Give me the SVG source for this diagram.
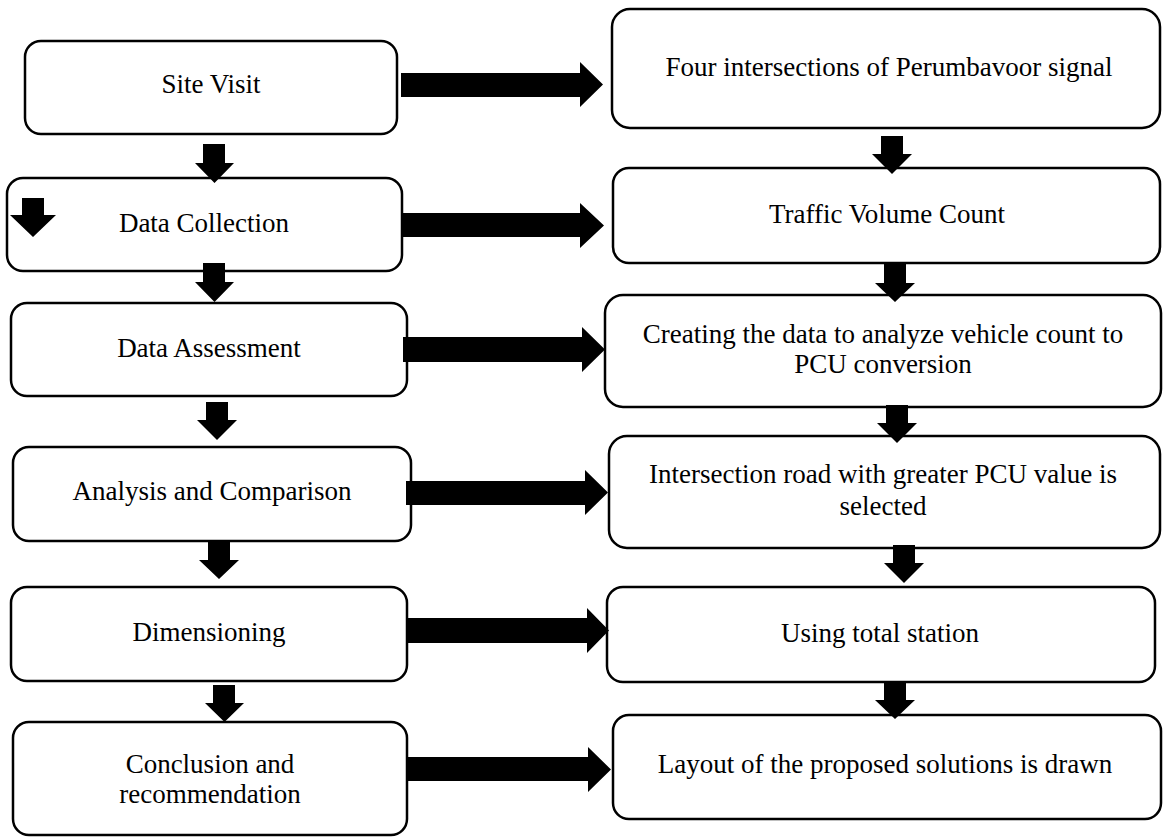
<svg xmlns="http://www.w3.org/2000/svg" width="1163" height="838" viewBox="0 0 1163 838">
<style>
.box{fill:#fff;stroke:#000;stroke-width:2.5}
.t{font-family:"Liberation Serif","Times New Roman",serif;font-size:27px;fill:#000;text-anchor:middle}
.arr{fill:#000;stroke:none}
</style>
<rect width="1163" height="838" fill="#fff"/>
<g id="site-visit"><rect class="box" x="25" y="41" width="372" height="93" rx="16"/><text class="t" x="211" y="93">Site Visit</text></g>
<g id="data-collection"><rect class="box" x="7" y="178" width="395" height="93" rx="16"/><text class="t" x="204" y="232">Data Collection</text></g>
<g id="data-assessment"><rect class="box" x="11" y="303" width="396" height="93" rx="16"/><text class="t" x="209" y="357">Data Assessment</text></g>
<g id="analysis"><rect class="box" x="13" y="447" width="398" height="94" rx="16"/><text class="t" x="212" y="500">Analysis and Comparison</text></g>
<g id="dimensioning"><rect class="box" x="11" y="587" width="396" height="94" rx="16"/><text class="t" x="209" y="641">Dimensioning</text></g>
<g id="conclusion"><rect class="box" x="13" y="722" width="394" height="113" rx="16"/><text class="t" x="210" y="773">Conclusion and</text><text class="t" x="210" y="803">recommendation</text></g>
<g id="four-intersections"><rect class="box" x="612" y="9" width="548" height="119" rx="18"/><text class="t" x="889" y="76">Four intersections of Perumbavoor signal</text></g>
<g id="traffic-volume"><rect class="box" x="613" y="168" width="547" height="95" rx="16"/><text class="t" x="887" y="223">Traffic Volume Count</text></g>
<g id="creating-data"><rect class="box" x="605" y="295" width="556" height="112" rx="18"/><text class="t" x="883" y="343">Creating the data to analyze vehicle count to</text><text class="t" x="883" y="373">PCU conversion</text></g>
<g id="intersection-road"><rect class="box" x="609" y="436" width="551" height="112" rx="18"/><text class="t" x="883" y="483">Intersection road with greater PCU value is</text><text class="t" x="883" y="515">selected</text></g>
<g id="total-station"><rect class="box" x="607" y="587" width="548" height="95" rx="16"/><text class="t" x="880" y="642">Using total station</text></g>
<g id="layout"><rect class="box" x="613" y="715" width="548" height="104" rx="16"/><text class="t" x="885" y="773">Layout of the proposed solutions is drawn</text></g>
<g id="connectors" class="arr">
<path d="M203,144 H225 V163 H234 L214.5,183 L195,163 H203 Z"/>
<path d="M203,263 H225 V282 H234 L214.5,302 L195,282 H203 Z"/>
<path d="M206,402 H228 V420 H237 L217,440 L197,420 H206 Z"/>
<path d="M208,542 H230 V560 H239 L219,579 L199,560 H208 Z"/>
<path d="M213,685 H235 V703 H244 L224.5,722 L205,703 H213 Z"/>
<path d="M881,136 H903 V154 H912 L892,174 L872,154 H881 Z"/>
<path d="M884,263 H906 V283 H915 L895,302 L875,283 H884 Z"/>
<path d="M886,405 H908 V423 H917 L897,443 L877,423 H886 Z"/>
<path d="M893,545 H915 V563 H924 L904,583 L884,563 H893 Z"/>
<path d="M884,682 H906 V700 H915 L895,719 L875,700 H884 Z"/>
<path d="M22,198 H44 V215 H56 L33,237 L10,215 H22 Z"/>
<path d="M401,73 H580 V62 L603,84.5 L580,107 V97 H401 Z"/>
<path d="M402,213 H580 V203 L604,225.5 L580,248 V237 H402 Z"/>
<path d="M403,337 H582 V327 L605,349.5 L582,372 V362 H403 Z"/>
<path d="M406,481 H585 V470 L608,492.5 L585,515 V505 H406 Z"/>
<path d="M407,618 H587 V608 L609,630.5 L587,653 V643 H407 Z"/>
<path d="M408,757 H588 V747 L611,769.5 L588,792 V781 H408 Z"/>
</g>
</svg>
